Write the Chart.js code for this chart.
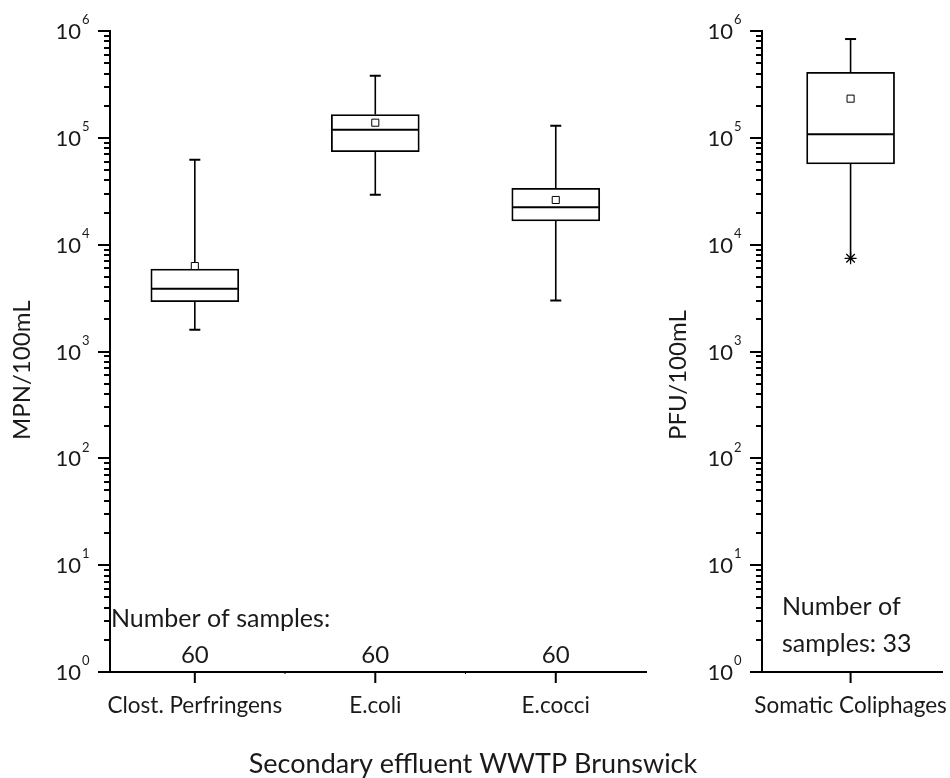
<!DOCTYPE html>
<html>
<head>
<meta charset="utf-8">
<script src="https://cdn.jsdelivr.net/npm/chart.js@4/dist/chart.umd.min.js"></script>
<style>
  body { margin: 0; background: #fff; }
  #wrap { position: relative; width: 950px; height: 778px; }
  #left { position: absolute; left: 0; top: 0; }
  #right { position: absolute; left: 650px; top: 0; }
</style>
</head>
<body>
<div id="wrap">
  <canvas id="left" width="720" height="778"></canvas>
  <canvas id="right" width="300" height="778"></canvas>
</div>
<script>
// bacteria, MPN/100mL
const groups = ['Clost. Perfringens', 'E.coli', 'E.cocci'];
const whiskerLow = [1600, 29400, 3000];
const q1 = [2930, 74100, 16700];
const median = [3870, 119000, 22400];
const q3 = [5920, 165000, 33700];
const whiskerHigh = [62400, 382000, 130000];
const means = [6310, 138600, 26200];
const sampleCounts = [60, 60, 60];

// phages, PFU/100mL
const phageGroups = ['Somatic Coliphages'];
const phageLow = [7450];
const phageQ1 = [56900];
const phageMedian = [107900];
const phageQ3 = [410000];
const phageHigh = [841000];
const phageMeans = [232700];
const phageCount = 33;

const decades = [0, 1, 2, 3, 4, 5, 6];

const FONT = 'Lato, "Open Sans", sans-serif';
const TEXT = '#1a1a1a';

// whiskers, medians, ticks and all the text around the axes
function makeDeco(cfg) {
  return {
    id: 'boxDeco',
    afterDatasetDraw(chart, args) {
      if (args.index !== 1) return; // after the boxes, before the mean markers
      const ctx = chart.ctx;
      const xs = chart.scales.x, ys = chart.scales.y;
      ctx.save();
      ctx.strokeStyle = '#000';
      cfg.low.forEach((lo, i) => {
        const x = xs.getPixelForValue(i);
        const yLo = ys.getPixelForValue(lo), yHi = ys.getPixelForValue(cfg.high[i]);
        const yQ1 = ys.getPixelForValue(cfg.q1[i]), yQ3 = ys.getPixelForValue(cfg.q3[i]);
        ctx.lineWidth = 1.6;
        ctx.beginPath();
        ctx.moveTo(x, yQ1); ctx.lineTo(x, yLo);
        ctx.moveTo(x, yQ3); ctx.lineTo(x, yHi);
        ctx.stroke();
        ctx.lineWidth = 2;
        ctx.beginPath();
        ctx.moveTo(x - 5.5, yHi); ctx.lineTo(x + 5.5, yHi);
        if (!cfg.lowStar) { ctx.moveTo(x - 5.5, yLo); ctx.lineTo(x + 5.5, yLo); }
        ctx.stroke();
        const yMed = ys.getPixelForValue(cfg.med[i]);
        ctx.beginPath();
        ctx.moveTo(x - 43, yMed); ctx.lineTo(x + 43, yMed);
        ctx.stroke();
      });
      ctx.restore();
    },
    afterDraw(chart) {
      const ctx = chart.ctx;
      const xs = chart.scales.x, ys = chart.scales.y;
      const ax = chart.chartArea.left, ay = chart.chartArea.bottom;
      ctx.save();
      ctx.strokeStyle = '#000';
      ctx.lineWidth = 2;
      // log ticks on the y axis
      ctx.beginPath();
      decades.forEach(e => {
        for (let m = 1; m <= 9; m++) {
          if (e === 6 && m > 1) break;
          const y = Math.round(ys.getPixelForValue(m * Math.pow(10, e)));
          const len = m === 1 ? 12 : 6;
          ctx.moveTo(ax - len, y); ctx.lineTo(ax, y);
        }
      });
      ctx.stroke();
      // category ticks
      ctx.beginPath();
      cfg.labels.forEach((l, i) => {
        const x = xs.getPixelForValue(i);
        ctx.moveTo(x, ay); ctx.lineTo(x, ay + 11);
      });
      ctx.stroke();
      ctx.lineWidth = 1;
      ctx.beginPath();
      for (let i = 0; i < cfg.labels.length - 1; i++) {
        const x = xs.getPixelForValue(i + 0.5);
        ctx.moveTo(x, ay); ctx.lineTo(x, ay + 2);
      }
      ctx.stroke();

      ctx.fillStyle = TEXT;
      // 10^n labels
      decades.forEach(e => {
        const y = ys.getPixelForValue(Math.pow(10, e));
        ctx.font = '22px ' + FONT;
        ctx.textAlign = 'right';
        ctx.textBaseline = 'middle';
        ctx.fillText('10', ax - 29, y + 1);
        ctx.font = '13px ' + FONT;
        ctx.textAlign = 'left';
        ctx.fillText(String(e), ax - 28, y - 11);
      });
      // category names
      ctx.font = '22.5px ' + FONT;
      ctx.textAlign = 'center';
      ctx.textBaseline = 'alphabetic';
      cfg.labels.forEach((l, i) => ctx.fillText(l, xs.getPixelForValue(i), 713));
      // y axis title
      ctx.save();
      ctx.translate(cfg.titleX, 440);
      ctx.rotate(-Math.PI / 2);
      ctx.font = '24px ' + FONT;
      ctx.textAlign = 'left';
      ctx.textBaseline = 'middle';
      ctx.fillText(cfg.title, 0, 0);
      ctx.restore();
      if (cfg.extra) cfg.extra(ctx, xs, ys, ax);
      ctx.restore();
    }
  };
}

function boxChart(canvas, labels, lo, b1, med, b3, hi, mean, xMin, xMax, axisLeft, padRight, deco, star) {
  const datasets = [
    {
      type: 'scatter',
      order: 1,
      data: mean.map((v, i) => ({ x: i, y: v })),
      pointStyle: 'rect',
      radius: 5,
      backgroundColor: '#fff',
      borderColor: '#000',
      borderWidth: 1
    },
    {
      type: 'bar',
      order: 3,
      data: b1.map((v, i) => ({ x: i, y: [v, b3[i]] })),
      backgroundColor: '#fff',
      borderColor: '#000',
      borderWidth: 1.8,
      borderSkipped: false,
      barThickness: 88
    }
  ];
  if (star) {
    datasets.push({
      type: 'scatter',
      order: 0,
      data: lo.map((v, i) => ({ x: i, y: v })),
      pointStyle: 'star',
      radius: 6,
      borderColor: '#000',
      borderWidth: 1.3
    });
  }
  return new Chart(canvas, {
    type: 'bar',
    data: { datasets },
    options: {
      responsive: false,
      animation: false,
      layout: { padding: { top: 31, right: padRight, left: 0, bottom: 0 } },
      plugins: { legend: { display: false }, tooltip: { enabled: false } },
      scales: {
        x: {
          type: 'linear', min: xMin, max: xMax, offset: false,
          grid: { display: false },
          border: { color: '#000', width: 2 },
          ticks: { display: false },
          afterFit: s => { s.height = 106; }
        },
        y: {
          type: 'logarithmic', min: 1, max: 1e6,
          grid: { display: false },
          border: { color: '#000', width: 2 },
          ticks: { display: false },
          afterFit: s => { s.width = axisLeft; }
        }
      }
    },
    plugins: [deco]
  });
}

boxChart(document.getElementById('left'), groups, whiskerLow, q1, median, q3, whiskerHigh, means,
  -0.47, 2.5, 110, 74,
  makeDeco({
    labels: groups, low: whiskerLow, q1: q1, med: median, q3: q3, high: whiskerHigh,
    title: 'MPN/100mL', titleX: 22,
    extra(ctx, xs) {
      ctx.font = '25px ' + FONT;
      ctx.textAlign = 'left';
      ctx.fillText('Number of samples:', 111, 627);
      ctx.textAlign = 'center';
      ctx.font = '24px ' + FONT;
      sampleCounts.forEach((n, i) => ctx.fillText(String(n), xs.getPixelForValue(i), 663));
      ctx.font = '27px ' + FONT;
      ctx.fillText('Secondary effluent WWTP Brunswick', 473, 773);
    }
  }), false);

boxChart(document.getElementById('right'), phageGroups, phageLow, phageQ1, phageMedian, phageQ3, phageHigh, phageMeans,
  -1, 1.04, 112, 0,
  makeDeco({
    labels: phageGroups, low: phageLow, q1: phageQ1, med: phageMedian, q3: phageQ3, high: phageHigh,
    title: 'PFU/100mL', titleX: 28, lowStar: true,
    extra(ctx) {
      ctx.font = '25px ' + FONT;
      ctx.textAlign = 'left';
      ctx.fillText('Number of', 132, 615);
      ctx.fillText('samples: ' + phageCount, 132, 652);
    }
  }), true);
</script>
</body>
</html>
